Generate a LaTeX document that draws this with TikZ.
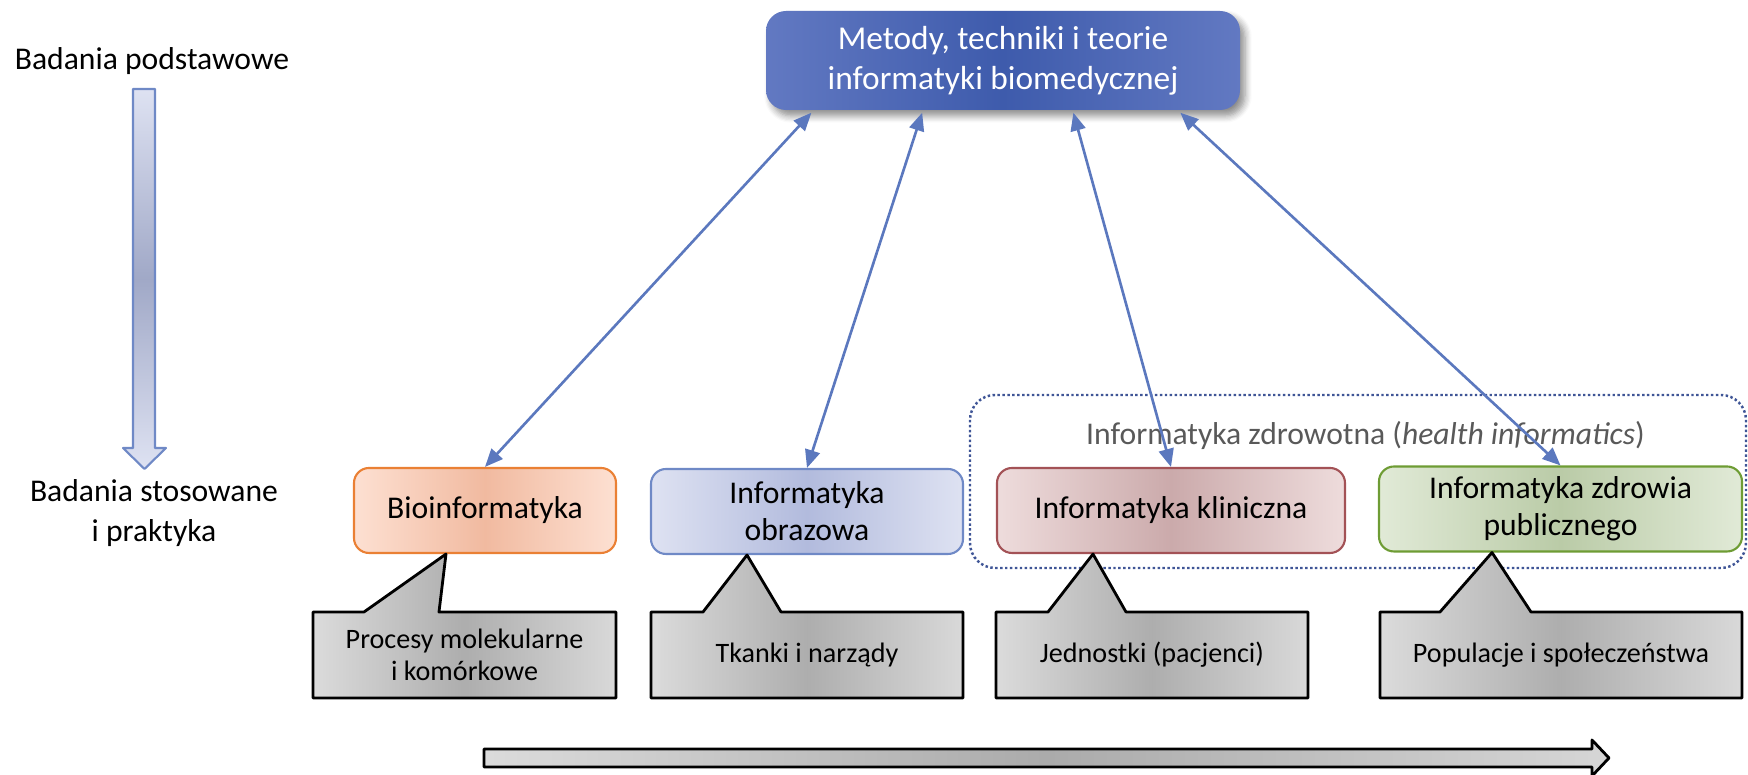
\documentclass[tikz,border=0pt]{standalone}
\usepackage{fontspec}
\setmainfont{Carlito}
\usetikzlibrary{arrows.meta,calc,shadows.blur}
\definecolor{lnk}{RGB}{91,120,190}
\definecolor{topL}{RGB}{98,121,194}
\definecolor{topM}{RGB}{62,91,172}
\definecolor{orD}{RGB}{234,128,52}
\definecolor{orL}{RGB}{253,224,210}
\definecolor{orM}{RGB}{241,186,160}
\definecolor{blD}{RGB}{111,137,198}
\definecolor{blL}{RGB}{222,226,242}
\definecolor{blM}{RGB}{178,187,221}
\definecolor{rdD}{RGB}{163,82,86}
\definecolor{rdL}{RGB}{238,220,220}
\definecolor{rdM}{RGB}{203,170,171}
\definecolor{grD}{RGB}{110,156,52}
\definecolor{grL}{RGB}{225,234,215}
\definecolor{grM}{RGB}{186,203,167}
\definecolor{navy}{RGB}{63,85,150}
\tikzset{
  cbox/.style={rounded corners=0.15cm, line width=0.6pt, minimum height=0.85cm, inner sep=0pt, align=center},
  callout/.style={line width=0.8pt, draw=black, left color=black!14, right color=black!15, middle color=black!32},
  link/.style={<->, draw=lnk, line width=0.75pt}
}
\begin{document}
\begin{tikzpicture}[x=1cm, y=-1cm, font=\fontsize{9}{10.6}\selectfont, line join=round, >={Triangle[length=1.8mm, width=1.5mm]}]
\useasboundingbox (0,0) rectangle (17.48,7.75);
% left side
\node[font=\fontsize{9}{11.4}\selectfont] (bp) at (1.52,0.61) {Badania podstawowe};
\node[font=\fontsize{9}{11.4}\selectfont, align=center] (bs) at (1.54,5.13) {Badania stosowane\\i praktyka};
\draw[draw=blD, line width=0.6pt, top color=blL, bottom color=blL, middle color=blM!90!black]
  (1.33,0.89) -- (1.55,0.89) -- (1.55,4.48) -- (1.66,4.48) -- (1.445,4.69) -- (1.23,4.48) -- (1.33,4.48) -- cycle;
% health informatics group
\draw[navy, line width=0.7pt, dash pattern=on 0.7pt off 0.7pt, rounded corners=0.25cm] (9.70,3.95) rectangle (17.46,5.68);
\node[text=black!65] (hlab) at (13.655,4.35) {Informatyka zdrowotna (\textit{health informatics})};
% boxes
\node[rounded corners=0.2cm, minimum width=4.74cm, minimum height=0.99cm, align=center, text=white,
  left color=topL, right color=topL, middle color=topM, font=\fontsize{9.5}{11.4}\selectfont,
  blur shadow={shadow xshift=0.5mm, shadow yshift=-0.6mm, shadow blur steps=6, shadow opacity=45}] (meth) at (10.03,0.605) {Metody, techniki i teorie\\informatyki biomedycznej};
\node[cbox, draw=orD, left color=orL, right color=orL, middle color=orM, minimum width=2.62cm] (bio) at (4.85,5.105) {Bioinformatyka};
\node[cbox, draw=blD, left color=blL, right color=blL, middle color=blM, minimum width=3.12cm] (obr) at (8.07,5.115) {Informatyka\\obrazowa};
\node[cbox, draw=rdD, left color=rdL, right color=rdL, middle color=rdM, minimum width=3.48cm] (klin) at (11.71,5.105) {Informatyka kliniczna};
\node[cbox, draw=grD, left color=grL, right color=grL, middle color=grM, minimum width=3.63cm] (pub) at (15.605,5.09) {Informatyka zdrowia\\publicznego};
\foreach \f/\nm in {0.097/bio, 0.33/obr, 0.648/klin, 0.873/pub}
  \draw[link] ($(meth.south west)!\f!(meth.south east)+(0,0.02)$) -- (\nm.north);
% callouts
\foreach \l/\r/\pa/\pb/\t/\bx/\nm/\txt in {
  3.13/6.16/3.64/4.39/4.46/bio/proc/{Procesy molekularne\\i komórkowe},
  6.51/9.63/7.03/7.81/7.47/obr/tk/{Tkanki i narządy},
  9.96/13.08/10.48/11.26/10.93/klin/jed/{Jednostki (pacjenci)},
  13.80/17.42/14.40/15.31/14.92/pub/pop/{Populacje i społeczeństwa}}
{
  \draw[callout] (\l,6.98) -- (\l,6.12) -- (\pa,6.12) -- (\t,0 |- \bx.south) -- (\pb,6.12) -- (\r,6.12) -- (\r,6.98) -- cycle;
  \node[font=\fontsize{8}{9.2}\selectfont, align=center] (\nm) at ({(\l+\r)/2},6.55) {\txt};
}
% bottom arrow
\draw[line width=0.8pt, left color=black!14, right color=black!16, middle color=black!33]
  (4.84,7.49) -- (15.92,7.49) -- (15.92,7.40) -- (16.09,7.58) -- (15.92,7.76) -- (15.92,7.67) -- (4.84,7.67) -- cycle;
\end{tikzpicture}
\end{document}
